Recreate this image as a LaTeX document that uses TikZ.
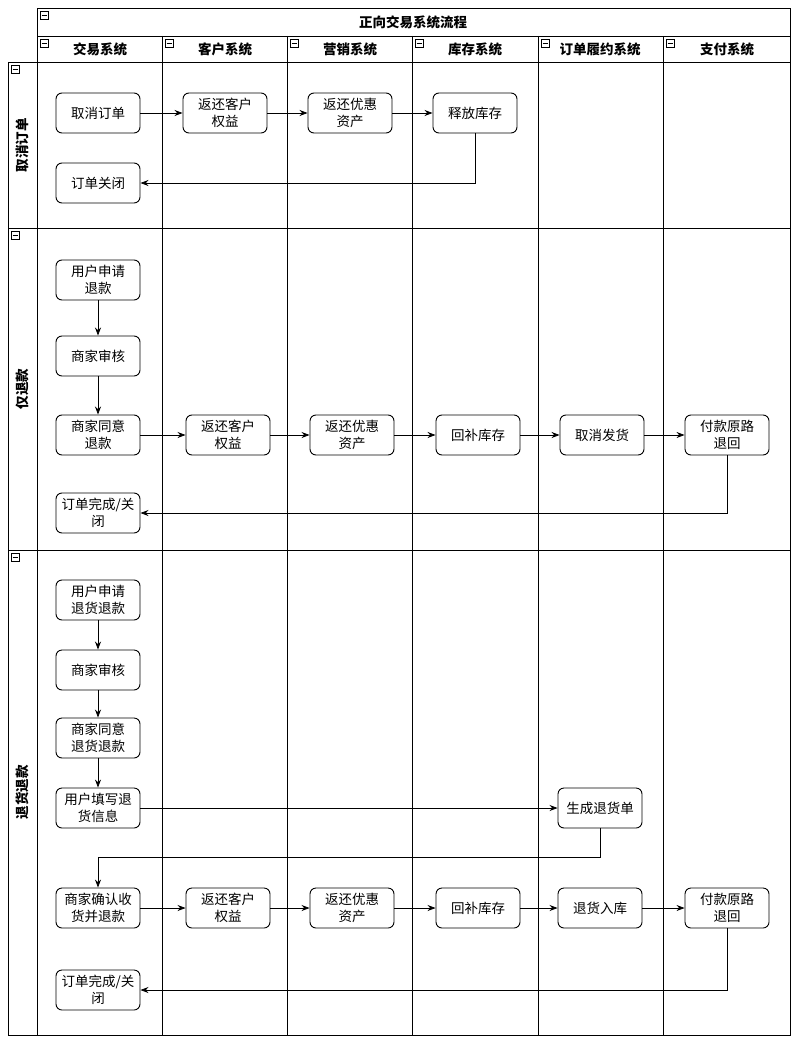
\documentclass[tikz,border=0pt]{standalone}
\usepackage{fontspec}
\setmainfont{Noto Sans CJK SC}
\usetikzlibrary{arrows.meta}
\tikzset{
  box/.style={draw, line width=0.9pt, rounded corners=6pt, minimum width=84pt, minimum height=40pt,
    align=center, font=\fontsize{13.5}{17}\selectfont, inner sep=1pt},
  head/.style={font=\fontsize{13.5}{16}\selectfont\bfseries},
  flow/.style={-{Stealth[length=8pt,width=6pt]}, line width=0.8pt},
  lane/.style={line width=0.9pt}
}
\newcommand{\minusbox}[2]{%
  \draw[line width=0.5pt,fill=white] (#1,#2) rectangle ++(8,8);
  \draw[line width=0.5pt] (#1+1.5,#2+4) -- ++(5,0);}
\begin{document}
\begin{tikzpicture}[x=1pt,y=-1pt]
\useasboundingbox (0,0) rectangle (800,1046);
% lanes
\draw[lane] (37,8) rectangle (790,1035);
\draw[lane] (37,36) -- (790,36);
\draw[lane] (8,62) -- (790,62);
\draw[lane] (8,62) -- (8,1035) -- (37,1035);
\foreach \y in {228,550} \draw[lane] (8,\y) -- (790,\y);
\foreach \x in {162,287,412,538,663} \draw[lane] (\x,36) -- (\x,1035);
\node[head] (title) at (413,22) {正向交易系统流程};
\node[head] (c1) at (100,49) {交易系统};
\node[head] (c2) at (225,49) {客户系统};
\node[head] (c3) at (350,49) {营销系统};
\node[head] (c4) at (475,49) {库存系统};
\node[head] (c5) at (600,49) {订单履约系统};
\node[head] (c6) at (727,49) {支付系统};
\node[head, rotate=90] (r1) at (22,145) {取消订单};
\node[head, rotate=90] (r2) at (22,389) {仅退款};
\node[head, rotate=90] (r3) at (22,792) {退货退款};
\minusbox{40}{11}
\foreach \x in {165,290,415,541,666} {\minusbox{\x}{39}}
\minusbox{40}{39}
\foreach \y in {65,231,553} {\minusbox{11}{\y}}
% cancel order
\node[box] (a1) at (98,113) {取消订单};
\node[box] (a2) at (225,113) {返还客户\\权益};
\node[box] (a3) at (350,113) {返还优惠\\资产};
\node[box] (a4) at (475,113) {释放库存};
\node[box] (a5) at (98,183) {订单关闭};
\draw[flow] (a1) -- (a2);
\draw[flow] (a2) -- (a3);
\draw[flow] (a3) -- (a4);
\draw[flow] (a4.south) |- (a5.east);
% refund only
\node[box] (b1) at (98,280) {用户申请\\退款};
\node[box] (b2) at (98,356) {商家审核};
\node[box] (b3) at (98,435) {商家同意\\退款};
\node[box] (b4) at (228,435) {返还客户\\权益};
\node[box] (b5) at (352,435) {返还优惠\\资产};
\node[box] (b6) at (478,435) {回补库存};
\node[box] (b7) at (602,435) {取消发货};
\node[box] (b8) at (727,435) {付款原路\\退回};
\node[box] (b9) at (98,513) {订单完成/关\\闭};
\draw[flow] (b1) -- (b2);
\draw[flow] (b2) -- (b3);
\draw[flow] (b3) -- (b4);
\draw[flow] (b4) -- (b5);
\draw[flow] (b5) -- (b6);
\draw[flow] (b6) -- (b7);
\draw[flow] (b7) -- (b8);
\draw[flow] (b8.south) |- (b9.east);
% return and refund
\node[box] (d1) at (98,600) {用户申请\\退货退款};
\node[box] (d2) at (98,670) {商家审核};
\node[box] (d3) at (98,738) {商家同意\\退货退款};
\node[box] (d4) at (98,808) {用户填写退\\货信息};
\node[box] (d5) at (600,808) {生成退货单};
\node[box] (d6) at (98,908) {商家确认收\\货并退款};
\node[box] (d7) at (228,908) {返还客户\\权益};
\node[box] (d8) at (352,908) {返还优惠\\资产};
\node[box] (d9) at (478,908) {回补库存};
\node[box] (d10) at (600,908) {退货入库};
\node[box] (d11) at (727,908) {付款原路\\退回};
\node[box] (d12) at (98,990) {订单完成/关\\闭};
\coordinate (bend) at (98,857);
\draw[flow] (d1) -- (d2);
\draw[flow] (d2) -- (d3);
\draw[flow] (d3) -- (d4);
\draw[flow] (d4) -- (d5);
\draw[flow] (d5.south) |- (bend) -- (d6.north);
\draw[flow] (d6) -- (d7);
\draw[flow] (d7) -- (d8);
\draw[flow] (d8) -- (d9);
\draw[flow] (d9) -- (d10);
\draw[flow] (d10) -- (d11);
\draw[flow] (d11.south) |- (d12.east);
\end{tikzpicture}
\end{document}
